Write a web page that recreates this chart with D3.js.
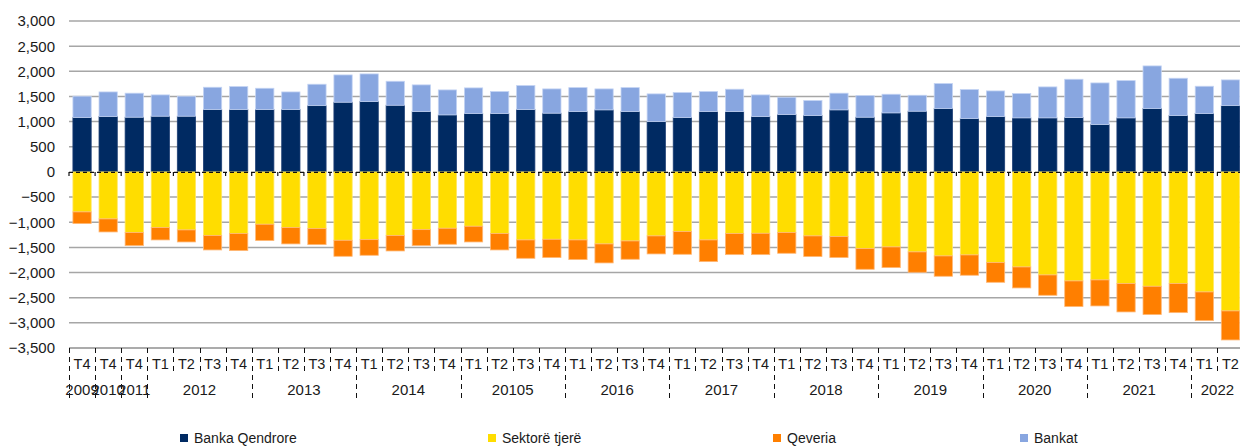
<!DOCTYPE html>
<html>
<head>
<meta charset="utf-8">
<script src="https://cdn.jsdelivr.net/npm/d3@7"></script>
<style>
  html, body { margin: 0; padding: 0; background: #fff; }
  svg { display: block; font-family: "Liberation Sans", Arial, sans-serif; }
</style>
</head>
<body>
<svg id="chart" width="1240" height="447"></svg>
<script>
// Quarter labels for every bar
const quarters = ["T4","T4","T4",
  "T1","T2","T3","T4", "T1","T2","T3","T4", "T1","T2","T3","T4", "T1","T2","T3","T4",
  "T1","T2","T3","T4", "T1","T2","T3","T4", "T1","T2","T3","T4", "T1","T2","T3","T4",
  "T1","T2","T3","T4", "T1","T2","T3","T4", "T1","T2"];

// Year group labels and how many quarters each one covers
const yearLabels = ["2009","2010","2011","2012","2013","2014","20105","2016","2017","2018","2019","2020","2021","2022"];
const yearSpans  = [1, 1, 1, 4, 4, 4, 4, 4, 4, 4, 4, 4, 4, 2];

// Series values (million)
const bankaQendrore = [1080,1100,1087,1107,1107,1239,1239,1239,1239,1318,1385,1398,1325,1199,
  1133,1160,1160,1239,1167,1199,1233,1199,1000,1080,1199,1199,1100,1140,1120,
  1233,1087,1173,1206,1259,1060,1100,1074,1074,1080,941,1074,1259,1120,1160,1318];
const bankat = [425,490,478,424,398,444,457,424,351,425,543,550,477,531,
  497,510,437,477,483,477,417,477,551,497,398,445,431,345,298,
  332,430,371,318,497,577,510,483,616,762,828,741,848,742,543,511];
const sektoreTjere = [-795,-934,-1206,-1107,-1153,-1266,-1226,-1040,-1107,-1127,-1359,-1346,-1266,-1147,
  -1120,-1080,-1226,-1352,-1339,-1352,-1431,-1372,-1272,-1186,-1352,-1226,-1220,-1206,-1272,
  -1286,-1524,-1491,-1590,-1670,-1650,-1803,-1889,-2048,-2167,-2147,-2220,-2273,-2220,-2386,-2763];
const qeveria = [-232,-259,-259,-245,-239,-285,-338,-325,-324,-318,-318,-311,-305,-318,
  -318,-312,-325,-365,-364,-391,-378,-364,-358,-451,-431,-418,-424,-411,-411,
  -417,-411,-411,-405,-404,-404,-391,-417,-404,-510,-517,-563,-563,-577,-570,-577];

// Y axis tick values
const yTicks = [3000,2500,2000,1500,1000,500,0,-500,-1000,-1500,-2000,-2500,-3000,-3500];

const seriesNames = ["Banka Qendrore","Sektorë tjerë","Qeveria","Bankat"];
const seriesColors = ["#002A62","#FFDD00","#FF7F00","#88A6E0"];
const seriesStrokes = ["#1d3f75","#ffe866","#ffb877","#c3d3f3"];

const rows = quarters.map((q, i) => ({
  i: i,
  "Banka Qendrore": bankaQendrore[i],
  "Sektorë tjerë": sektoreTjere[i],
  "Qeveria": qeveria[i],
  "Bankat": bankat[i]
}));

const svg = d3.select("#chart");
const plotLeft = 69, plotRight = 1243.5, plotTop = 21, plotBottom = 348;

const x = d3.scaleBand()
  .domain(d3.range(quarters.length))
  .range([plotLeft, plotRight])
  .paddingInner(0.3)
  .paddingOuter(0.15);
const step = x.step();
const edge = i => plotLeft + i * step;

const y = d3.scaleLinear().domain([-3500, 3000]).range([plotBottom, plotTop]);

// Horizontal gridlines
svg.append("g")
  .selectAll("line")
  .data(yTicks.filter(d => d !== 0))
  .join("line")
  .attr("x1", plotLeft).attr("x2", 1240)
  .attr("y1", d => y(d)).attr("y2", d => y(d))
  .attr("stroke", "#a6a6a6")
  .attr("stroke-width", 1.5);

// Y axis labels
svg.append("g")
  .selectAll("text")
  .data(yTicks)
  .join("text")
  .attr("x", 55)
  .attr("y", d => y(d))
  .attr("dy", "0.36em")
  .attr("text-anchor", "end")
  .attr("font-size", 15)
  .attr("fill", "#1a1a1a")
  .text(d => d3.format(",")(d));

// Stacked bars: positives above zero, negatives below
const stack = d3.stack().keys(seriesNames).offset(d3.stackOffsetDiverging);
const layers = stack(rows);

svg.append("g")
  .selectAll("g")
  .data(layers)
  .join("g")
  .attr("fill", (d, k) => seriesColors[k])
  .attr("stroke", (d, k) => seriesStrokes[k])
  .attr("stroke-width", 0.8)
  .selectAll("rect")
  .data(d => d)
  .join("rect")
  .attr("x", d => x(d.data.i))
  .attr("width", x.bandwidth())
  .attr("y", d => y(Math.max(d[0], d[1])))
  .attr("height", d => Math.abs(y(d[0]) - y(d[1])));

// Dashed category axis at zero with small ticks
const zeroY = y(0);
const axisZero = svg.append("g").attr("stroke", "#111").attr("stroke-width", 1.2);
axisZero.append("line")
  .attr("x1", plotLeft).attr("x2", 1240)
  .attr("y1", zeroY + 0.5).attr("y2", zeroY + 0.5)
  .attr("stroke-dasharray", "4,3");
axisZero.selectAll("line.tick")
  .data(d3.range(quarters.length + 1))
  .join("line")
  .attr("class", "tick")
  .attr("x1", d => edge(d)).attr("x2", d => edge(d))
  .attr("y1", zeroY).attr("y2", zeroY + 4);

// Bottom category axis
const bottomAxis = svg.append("g");
bottomAxis.append("line")
  .attr("x1", plotLeft).attr("x2", 1240)
  .attr("y1", plotBottom).attr("y2", plotBottom)
  .attr("stroke", "#a6a6a6").attr("stroke-width", 1.5);

// Year boundary indices
const yearStarts = [];
let acc = 0;
yearSpans.forEach(n => { yearStarts.push(acc); acc += n; });
const yearEdges = new Set(yearStarts.concat([acc]));

bottomAxis.selectAll("line.sep")
  .data(d3.range(quarters.length + 1))
  .join("line")
  .attr("class", "sep")
  .attr("x1", d => Math.round(edge(d)) + 0.5).attr("x2", d => Math.round(edge(d)) + 0.5)
  .attr("y1", plotBottom)
  .attr("y2", d => yearEdges.has(d) ? 402 : 374)
  .attr("stroke", "#111")
  .attr("stroke-width", 1)
  .attr("stroke-dasharray", "5,4");

bottomAxis.selectAll("text.q")
  .data(quarters)
  .join("text")
  .attr("class", "q")
  .attr("x", (d, i) => x(i) + x.bandwidth() / 2)
  .attr("y", 369)
  .attr("text-anchor", "middle")
  .attr("font-size", 14.5)
  .attr("fill", "#1a1a1a")
  .text(d => d);

bottomAxis.selectAll("text.yr")
  .data(yearLabels)
  .join("text")
  .attr("class", "yr")
  .attr("x", (d, k) => edge(yearStarts[k]) + yearSpans[k] * step / 2)
  .attr("y", 395)
  .attr("text-anchor", "middle")
  .attr("font-size", 15)
  .attr("fill", "#1a1a1a")
  .text(d => d);

// Legend
const legendX = [180, 488, 773, 1020];
const legend = svg.append("g")
  .selectAll("g")
  .data(seriesNames)
  .join("g")
  .attr("transform", (d, k) => `translate(${legendX[k]},0)`);
legend.append("rect")
  .attr("x", 0).attr("y", 434)
  .attr("width", 8).attr("height", 8)
  .attr("fill", (d, k) => seriesColors[k]);
legend.append("text")
  .attr("x", 14).attr("y", 443)
  .attr("font-size", 14)
  .attr("fill", "#1a1a1a")
  .text(d => d);
</script>
</body>
</html>
